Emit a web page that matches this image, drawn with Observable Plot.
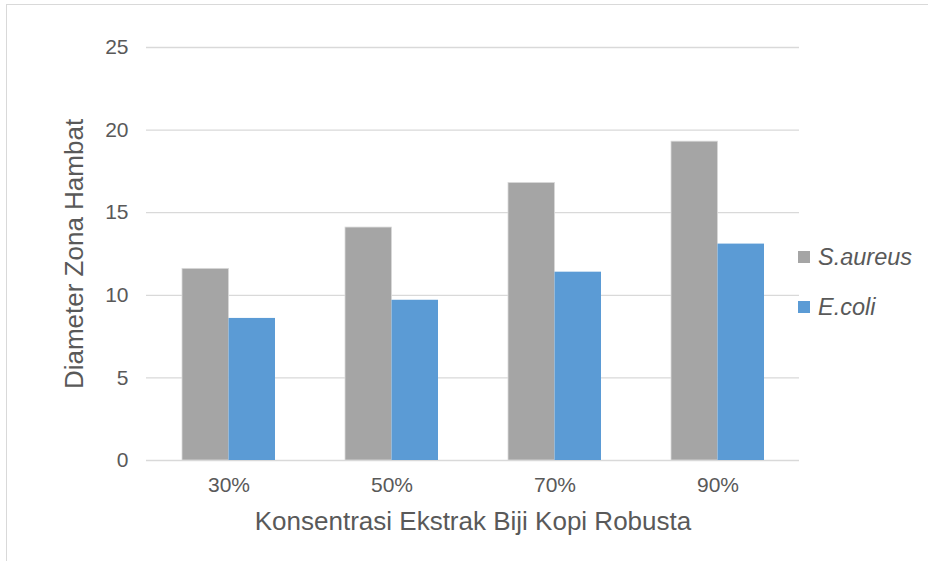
<!DOCTYPE html>
<html>
<head>
<meta charset="utf-8">
<script src="https://cdn.jsdelivr.net/npm/d3@7"></script>
<script src="https://cdn.jsdelivr.net/npm/@observablehq/plot@0.6"></script>
<style>
  html, body { margin: 0; padding: 0; background: #fff; }
  #wrap { position: relative; width: 928px; height: 561px; overflow: hidden; font-family: "Liberation Sans", Arial, sans-serif; }
  #frame { position: absolute; left: 6px; top: 4px; width: 1000px; height: 1000px; border-top: 1px solid #d9d9d9; border-left: 1px solid #d9d9d9; }
  #chart { position: absolute; left: 0; top: 0; }
  #legend { position: absolute; left: 798px; top: 232px; color: #595959; font-size: 23.5px; font-style: italic; }
  .item { display: flex; align-items: center; height: 50px; }
  .sw { width: 12px; height: 12px; margin-right: 8px; flex: none; }
</style>
</head>
<body>
<div id="wrap">
  <div id="frame"></div>
  <div id="chart"></div>
  <div id="legend"></div>
</div>
<script>
const categories = ["30%", "50%", "70%", "90%"];
const seriesNames = ["S.aureus", "E.coli"];
const sAureus = [11.6, 14.1, 16.8, 19.3];
const eColi = [8.6, 9.7, 11.4, 13.1];
const yTicks = [0, 5, 10, 15, 20, 25];
const colors = ["#a5a5a5", "#5b9bd5"];
const xTitle = "Konsentrasi Ekstrak Biji Kopi Robusta";
const yTitle = "Diameter Zona Hambat";

const rows = categories.flatMap((c, i) => [
  {cat: c, series: seriesNames[0], value: sAureus[i]},
  {cat: c, series: seriesNames[1], value: eColi[i]}
]);

const half = 46.5;
const chart = Plot.plot({
  width: 928,
  height: 561,
  marginLeft: 146,
  marginRight: 129,
  marginTop: 47,
  marginBottom: 101,
  style: {fontFamily: "Liberation Sans, Arial, sans-serif", color: "#595959", background: "transparent"},
  x: {domain: categories, paddingInner: 0.43, paddingOuter: 0.215},
  y: {domain: [0, 25]},
  color: {domain: seriesNames, range: colors},
  marks: [
    Plot.ruleY(yTicks, {stroke: "#d9d9d9", strokeWidth: 1.3}),
    Plot.barY(rows.filter(d => d.series === seriesNames[0]), {x: "cat", y: "value", fill: "series", insetRight: half, stroke: "#d9d9d9", strokeWidth: 0.8}),
    Plot.barY(rows.filter(d => d.series === seriesNames[1]), {x: "cat", y: "value", fill: "series", insetLeft: half}),
    Plot.axisY({ticks: yTicks, tickSize: 0, tickPadding: 18, fontSize: 21, label: null, fill: "#595959"}),
    Plot.axisX({tickSize: 0, tickPadding: 17, fontSize: 21, label: null, fill: "#595959"}),
    Plot.text([xTitle], {frameAnchor: "bottom", dy: 61, fontSize: 26, fill: "#595959", lineAnchor: "middle"}),
    Plot.text([yTitle], {frameAnchor: "left", dx: -72, rotate: -90, fontSize: 26, fill: "#595959", lineAnchor: "middle", textAnchor: "middle"})
  ]
});
document.getElementById("chart").appendChild(chart);

const legend = document.getElementById("legend");
seriesNames.forEach((s, i) => {
  const item = document.createElement("div");
  item.className = "item";
  const sw = document.createElement("div");
  sw.className = "sw";
  sw.style.background = colors[i];
  const t = document.createElement("span");
  t.textContent = s;
  item.appendChild(sw);
  item.appendChild(t);
  legend.appendChild(item);
});
</script>
</body>
</html>
